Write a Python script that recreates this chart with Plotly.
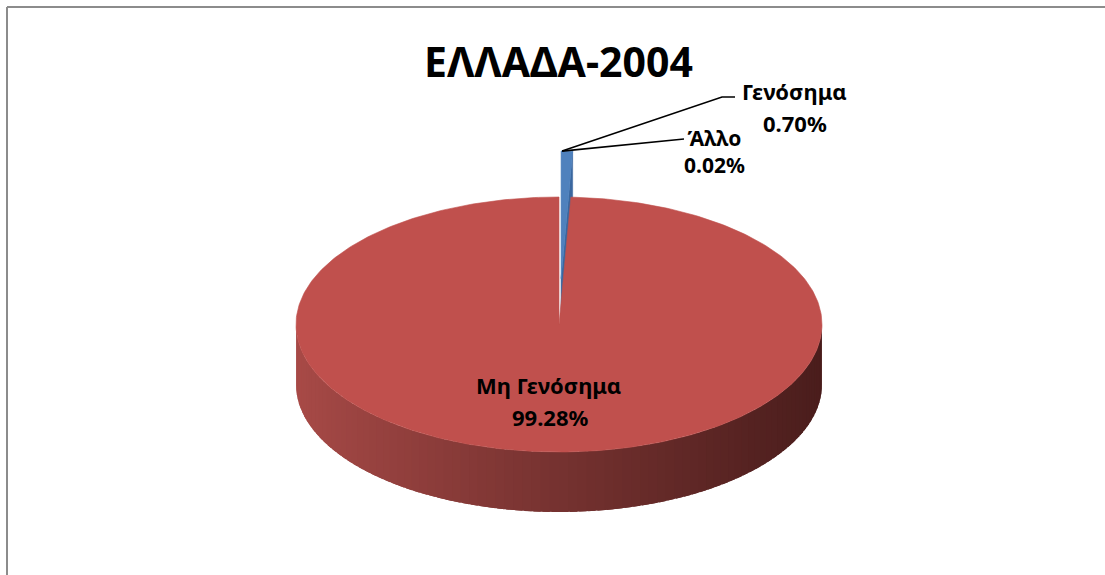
import numpy as np
import plotly.graph_objects as go

# ---- data ----
title_text = "ΕΛΛΑΔΑ-2004"
labels = ["Γενόσημα", "Άλλο", "Μη Γενόσημα"]
values = [0.70, 0.02, 99.28]
pct_text = ["0.70%", "0.02%", "99.28%"]
top_colors = ["#4F81BD", "#9BBB59", "#C0504D"]
side_colors = ["#3A679F", "#7C9A43", "#8C3A38"]
explode = [0.36, 0.0, 0.0]

# ---- geometry (pixel space) ----
W, H = 1105, 575
cx, cy = 559, 324.5
a, b = 263, 127.5
depth = 60

FONT = "Noto Sans"

def pt(theta_deg, ox=0.0, oy=0.0, dz=0.0):
    t = np.radians(theta_deg)
    return cx + ox + a * np.sin(t), cy + oy - b * np.cos(t) + dz

fig = go.Figure()

total = sum(values)
starts = []
acc = 0.0
for v in values:
    starts.append(acc)
    acc += v / total * 360.0
ends = [s + v / total * 360.0 for s, v in zip(starts, values)]

def add_poly(xs, ys, color, lw=0.6):
    fig.add_trace(go.Scatter(
        x=list(xs) + [xs[0]], y=list(ys) + [ys[0]], mode="lines", fill="toself",
        fillcolor=color, line=dict(color=color, width=lw), hoverinfo="skip",
        showlegend=False))

def shade(rgb_l, rgb_r, f):
    return "rgb(%d,%d,%d)" % tuple(int(round(l + (r - l) * f)) for l, r in zip(rgb_l, rgb_r))

for i in range(len(values)):
    s, e = starts[i], ends[i]
    mid = (s + e) / 2
    ox = explode[i] * a * np.sin(np.radians(mid))
    oy = -explode[i] * b * np.cos(np.radians(mid))
    if values[i] / total * 360 < 1.0 and explode[i] == 0:
        continue
    if i != 2:
        # cut face at end angle (visible, facing front-right)
        c0 = (cx + ox, cy + oy)
        r0 = pt(e, ox, oy)
        xs = [c0[0], r0[0], r0[0], c0[0]]
        ys = [c0[1], r0[1], r0[1] + depth, c0[1] + depth]
        add_poly(xs, ys, side_colors[i])
        # top face
        th = np.linspace(s, e, 20)
        px, py = pt(th, ox, oy)
        add_poly([cx + ox] + list(px), [cy + oy] + list(py), top_colors[i])
    else:
        # outer side band (front half) with horizontal gradient
        lo = max(s, 90.0)
        hi = min(e, 270.0)
        n = 90
        edges = np.linspace(lo, hi, n + 1)
        left_rgb = (168, 74, 71)
        right_rgb = (74, 29, 28)
        step = edges[1] - edges[0]
        for k in range(n):
            t1 = edges[k]
            t2 = min(edges[k + 1] + step * 0.8, hi)
            th = np.linspace(t1, t2, 4)
            tx, ty = pt(th)
            xm = float(np.mean(pt(np.array([edges[k], edges[k + 1]]))[0]))
            f = (xm - (cx - a)) / (2 * a)
            f = min(max(f, 0), 1) ** 0.9
            col = shade(left_rgb, right_rgb, f)
            xs = list(tx) + list(tx[::-1])
            ys = list(ty) + list(ty[::-1] + depth)
            add_poly(xs, ys, col, lw=0)
        th = np.linspace(s, e, 400)
        px, py = pt(th)
        add_poly([cx] + list(px), [cy] + list(py), top_colors[i])

# ---- labels ----
def label(x, y, txt, size=22):
    fig.add_annotation(x=x, y=y, xref="x", yref="y", text=f"<b>{txt}</b>",
                       showarrow=False, font=dict(family=FONT, size=size, color="black"),
                       xanchor="center", yanchor="middle", align="center")

label(548, 385, labels[2])
label(550, 417, pct_text[2])

# leader lines for small slices
ax0 = cx + explode[0] * a * np.sin(np.radians((starts[0] + ends[0]) / 2)) + 1
ay0 = cy - b - explode[0] * b * np.cos(np.radians((starts[0] + ends[0]) / 2))
fig.add_trace(go.Scatter(x=[ax0, 722, 735], y=[ay0, 97, 97], mode="lines",
                         line=dict(color="black", width=1.6), hoverinfo="skip",
                         showlegend=False))
fig.add_trace(go.Scatter(x=[ax0, 678, 684], y=[ay0, 139, 139], mode="lines",
                         line=dict(color="black", width=1.6), hoverinfo="skip",
                         showlegend=False))
label(794, 91, labels[0])
label(795, 123, pct_text[0])
label(714, 151, f"{labels[1]}<br>{pct_text[1]}", size=21)

# title
fig.add_annotation(x=558, y=61, xref="x", yref="y", text=f"<b>{title_text}</b>",
                   showarrow=False, font=dict(family=FONT, size=41, color="black"))

# chart-area border (top and left edges visible)
fig.add_shape(type="line", x0=7, y0=7, x1=W, y1=7, line=dict(color="#8C8C8C", width=2))
fig.add_shape(type="line", x0=7, y0=7, x1=7, y1=H, line=dict(color="#8C8C8C", width=2))

fig.update_layout(
    width=W, height=H, margin=dict(l=0, r=0, t=0, b=0),
    paper_bgcolor="white", plot_bgcolor="white",
    xaxis=dict(range=[0, W], visible=False, fixedrange=True),
    yaxis=dict(range=[H, 0], visible=False, fixedrange=True),
    showlegend=False,
)
fig.write_html("out.html", include_plotlyjs=True, config={"displayModeBar": False})
